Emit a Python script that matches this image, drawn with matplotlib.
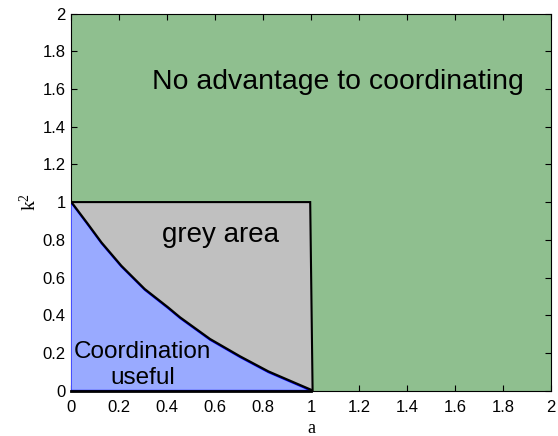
import numpy as np
import matplotlib
matplotlib.use('Agg')
import matplotlib.pyplot as plt

# boundary values
curve_a = [0.0, 0.072, 0.128, 0.211, 0.308, 0.405, 0.455, 0.58, 0.705, 0.823, 0.914, 1.0]
curve_k2 = [1.0, 0.878, 0.781, 0.657, 0.534, 0.437, 0.384, 0.269, 0.177, 0.097, 0.047, 0.0]
grey_a = [0.0, 0.0, 0.997, 1.007]
grey_k2 = [0.0, 1.0, 1.0, 0.0]
ticks = [0, 0.2, 0.4, 0.6, 0.8, 1, 1.2, 1.4, 1.6, 1.8, 2]
tick_labels = ['0', '0.2', '0.4', '0.6', '0.8', '1', '1.2', '1.4', '1.6', '1.8', '2']

green = '#8fbf8f'
grey = '#c0c0c0'
blue = '#99aaff'

plt.rcParams['font.family'] = 'Liberation Sans'
plt.rcParams['mathtext.default'] = 'regular'

fig = plt.figure(figsize=(5.58, 4.36), dpi=100)
ax = fig.add_axes([0.1267, 0.104, 0.861, 0.865])
ax.set_facecolor(green)

ax.fill(grey_a, grey_k2, facecolor=grey, edgecolor='black', lw=1.5, zorder=2)
ax.fill(curve_a + [0.0], curve_k2 + [0.0], facecolor=blue, edgecolor='blue', lw=1.2, zorder=3)
ax.plot(curve_a, [k + 0.005 for k in curve_k2], color='black', lw=1.6, zorder=4)
ax.plot([0, 1], [0, 0], color='black', lw=2, zorder=4, clip_on=False)

ax.text(1.114, 1.636, 'No advantage to coordinating', fontsize=20.4, ha='center', va='center')
ax.text(0.623, 0.825, 'grey area', fontsize=20, ha='center', va='center', zorder=5)
ax.text(0.30, 0.137, 'Coordination\nuseful', fontsize=17.5, ha='center', va='center',
        linespacing=1.2, zorder=5)

ax.set_xlim(0, 2)
ax.set_ylim(0, 2)
ax.set_xticks(ticks)
ax.set_xticklabels(tick_labels)
ax.set_yticks(ticks)
ax.set_yticklabels(tick_labels)
ax.tick_params(direction='in', top=True, right=True, labelsize=12, length=4)
ax.tick_params(axis='x', pad=7)
ax.set_xlabel('a', family='Liberation Serif', fontsize=13, labelpad=3)
ax.set_ylabel('k$^2$', family='Liberation Serif', fontsize=14, labelpad=2)

fig.savefig('out.png', dpi=100)
